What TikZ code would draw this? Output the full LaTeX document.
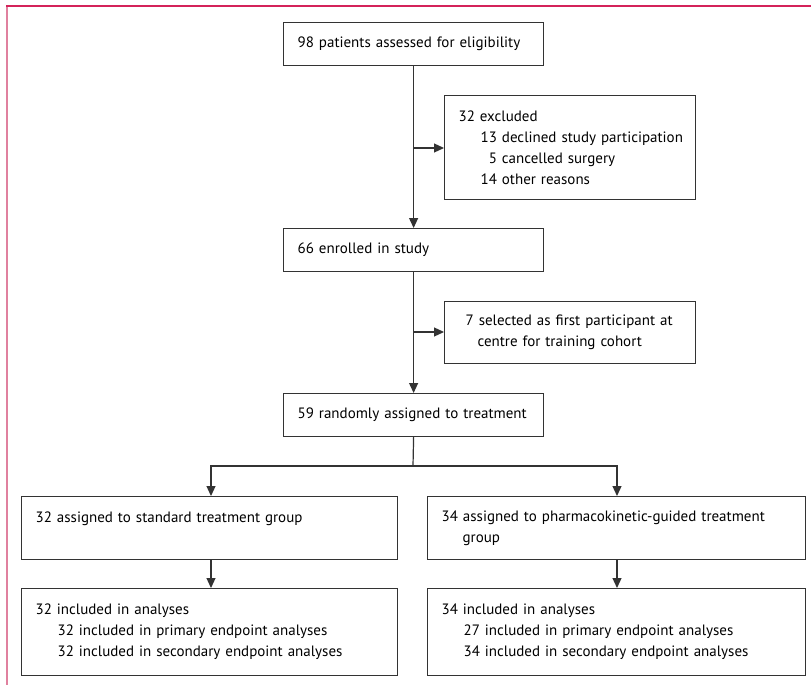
\documentclass[tikz,border=0pt]{standalone}
\usepackage{fontspec}
\setmainfont{PT Sans}
\usetikzlibrary{arrows.meta}
\hyphenpenalty=10000
\exhyphenpenalty=10000
\definecolor{framecrimson}{HTML}{D4235A}
\definecolor{framepink}{HTML}{E0819F}
\definecolor{boxline}{HTML}{333333}
\tikzset{
  flowbox/.style={draw=boxline, line width=1.2pt, anchor=north west, inner xsep=14pt, inner ysep=0pt, align=left, font=\fontsize{15}{21}\selectfont},
  flowline/.style={draw=boxline, line width=1.2pt},
  flowarrow/.style={flowline, -{Triangle[length=10pt,width=9pt]}}
}
\newcommand{\ind}[1]{\hspace*{#1pt}}
\begin{document}
\begin{tikzpicture}[x=1pt,y=-1pt]
\useasboundingbox (0,0) rectangle (811,685);
\fill[white] (0,0) rectangle (811,685);
% frame
\draw[framepink, line width=2pt] (7,6) -- (7,685);
\draw[framecrimson, line width=2pt] (6,6) -- (811,6);
% boxes
\node[flowbox, minimum width=260pt, minimum height=43pt, text width=232pt] (assess) at (283,22) {98 patients assessed for eligibility};
\node[flowbox, minimum width=251pt, minimum height=104pt, text width=223pt] (excl) at (444,95) {32 excluded\\\ind{22}\mbox{13 declined study participation}\\\ind{22}\phantom{1}5 cancelled surgery\\\ind{22}14 other reasons};
\node[flowbox, minimum width=260pt, minimum height=43pt, text width=232pt] (enrol) at (283,228) {66 enrolled in study};
\node[flowbox, minimum width=251pt, minimum height=62pt, text width=223pt] (train) at (444,301) {\ind{7}\mbox{7 selected as first participant at}\\\ind{19}centre for training cohort};
\node[flowbox, minimum width=260pt, minimum height=43pt, text width=232pt] (rand) at (283,393) {59 randomly assigned to treatment};
\node[flowbox, minimum width=376pt, minimum height=63pt, text width=348pt] (stdg) at (21,496) {32 assigned to standard treatment group\\\mbox{}};
\node[flowbox, minimum width=378pt, minimum height=63pt, text width=350pt] (pkg) at (427,496) {\mbox{34 assigned to pharmacokinetic-guided treatment}\\\ind{21}group};
\node[flowbox, minimum width=376pt, minimum height=87pt, text width=348pt] (stda) at (21,588) {32 included in analyses\\\ind{22}32 included in primary endpoint analyses\\\ind{22}32 included in secondary endpoint analyses};
\node[flowbox, minimum width=378pt, minimum height=87pt, text width=350pt] (pka) at (427,588) {34 included in analyses\\\ind{22}27 included in primary endpoint analyses\\\ind{22}34 included in secondary endpoint analyses};
% connector points
\coordinate (exj) at (413,148);
\coordinate (trj) at (413,332);
\coordinate (split) at (413,466);
\coordinate (splitL) at (211,466);
\coordinate (splitR) at (617,466);
% connectors
\draw[flowarrow] (assess.south) -- (enrol.north);
\draw[flowarrow] (exj) -- (exj -| excl.west);
\draw[flowarrow] (enrol.south) -- (rand.north);
\draw[flowarrow] (trj) -- (trj -| train.west);
\draw[flowline] (rand.south) -- (split);
\draw[flowarrow] (split) -- (splitL) -- (splitL |- stdg.north);
\draw[flowarrow] (split) -- (splitR) -- (splitR |- pkg.north);
\draw[flowarrow] (splitL |- stdg.south) -- (splitL |- stda.north);
\draw[flowarrow] (splitR |- pkg.south) -- (splitR |- pka.north);
\end{tikzpicture}
\end{document}
